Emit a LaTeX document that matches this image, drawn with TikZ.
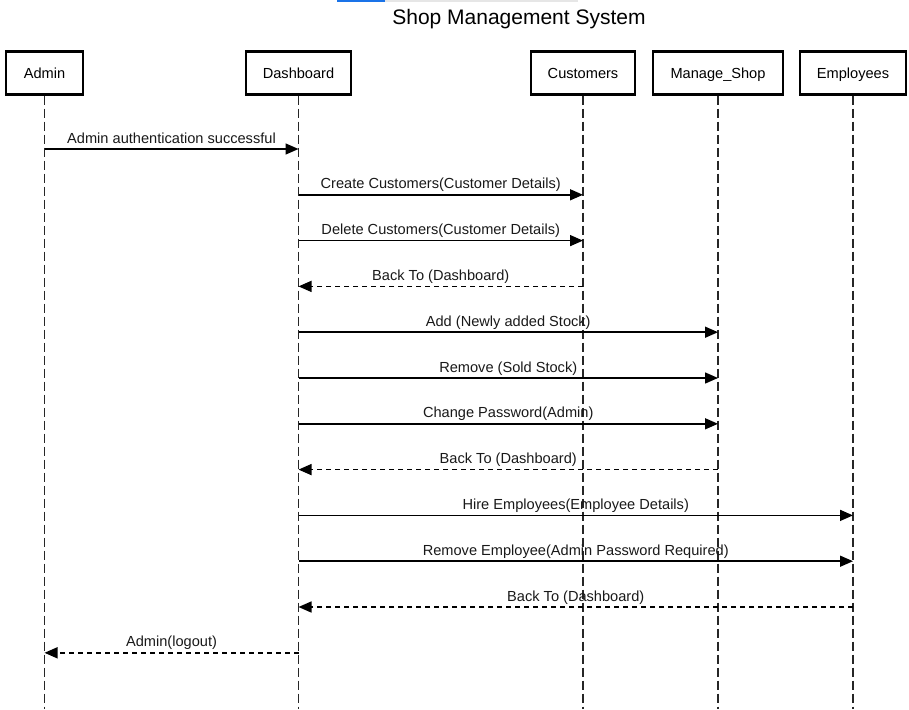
\documentclass[tikz,border=0pt]{standalone}
\usepackage{fontspec}
\setmainfont{Liberation Sans}
\usetikzlibrary{arrows.meta}
\definecolor{barblue}{HTML}{1A73E8}
\definecolor{bargrey}{HTML}{E6E6E6}
\tikzset{
  actor/.style={draw, line width=2.2pt, minimum width=#1, minimum height=43pt,
    inner sep=0pt, text height=10.5pt, text depth=0pt,
    font=\fontsize{14.6}{17}\selectfont},
  lifeline/.style={line width=1.5pt, dash pattern=on 9pt off 4pt, draw=black!85},
  msg/.style={line width=1.5pt, -{Triangle[length=13pt,width=11pt]}},
  ret/.style={msg, dash pattern=on 5pt off 4pt},
  lbl/.style={anchor=base, inner sep=0pt, yshift=6pt, font=\fontsize{14.6}{17}\selectfont, text=black!90}
}
\begin{document}
\begin{tikzpicture}[x=1pt,y=-1pt]
\useasboundingbox (0,0) rectangle (909,709);
\fill[barblue] (337,0) rectangle (385,2.5);
\fill[bargrey] (385,0) rectangle (578,2);
\node[anchor=base, font=\fontsize{21}{25}\selectfont] (title) at (519,25) {Shop Management System};

\node[actor=77pt]  (admin) at (44.5,73) {Admin};
\node[actor=105pt] (dash)  at (298.5,73) {Dashboard};
\node[actor=104pt] (cust)  at (583,73) {Customers};
\node[actor=130pt] (shop)  at (718,73) {Manage\_Shop};
\node[actor=106pt] (emp)   at (853,73) {Employees};

\coordinate (bottom) at (0,709);
\foreach \n in {admin,dash,cust,shop,emp}
  \draw[lifeline] (\n.south) -- (\n.south |- bottom);

\draw[msg] (admin |- 0,149) -- node[lbl, midway] {Admin authentication successful} (dash |- 0,149);
\draw[msg] (dash |- 0,194.8) -- node[lbl, midway] {Create Customers(Customer Details)} (cust |- 0,194.8);
\draw[msg] (dash |- 0,240.6) -- node[lbl, midway] {Delete Customers(Customer Details)} (cust |- 0,240.6);
\draw[ret] (cust |- 0,286.4) -- node[lbl, midway] {Back To (Dashboard)} (dash |- 0,286.4);
\draw[msg] (dash |- 0,332.2) -- node[lbl, midway] {Add (Newly added Stock)} (shop |- 0,332.2);
\draw[msg] (dash |- 0,378) -- node[lbl, midway] {Remove (Sold Stock)} (shop |- 0,378);
\draw[msg] (dash |- 0,423.8) -- node[lbl, midway] {Change Password(Admin)} (shop |- 0,423.8);
\draw[ret] (shop |- 0,469.6) -- node[lbl, midway] {Back To (Dashboard)} (dash |- 0,469.6);
\draw[msg] (dash |- 0,515.4) -- node[lbl, midway] {Hire Employees(Employee Details)} (emp |- 0,515.4);
\draw[msg] (dash |- 0,561.2) -- node[lbl, midway] {Remove Employee(Admin Password Required)} (emp |- 0,561.2);
\draw[ret] (emp |- 0,607) -- node[lbl, midway] {Back To (Dashboard)} (dash |- 0,607);
\draw[ret] (dash |- 0,652.8) -- node[lbl, midway] {Admin(logout)} (admin |- 0,652.8);
\end{tikzpicture}
\end{document}
